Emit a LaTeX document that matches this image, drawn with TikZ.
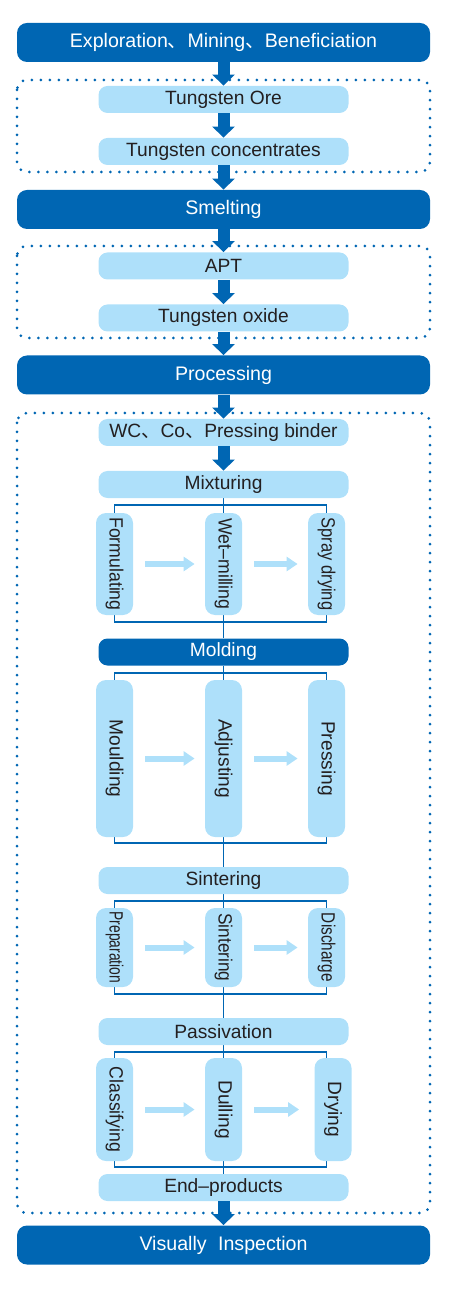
\documentclass[tikz,border=0pt]{standalone}
\usepackage{fontspec}
\setmainfont{Liberation Sans}
\newfontfamily\cjk{Noto Sans CJK SC}
\usetikzlibrary{
arrows.meta,
backgrounds,
calc,
positioning
}
\definecolor{dkblue}{HTML}{0066B3}
\definecolor{ltblue}{HTML}{AEE0FA}
\definecolor{inkgray}{HTML}{231F20}
\tikzset{>=latex}
\tikzset{
  stagebar/.style={fill=dkblue, text=white, rounded corners=5pt, minimum width=206.5pt, minimum height=19.5pt, inner sep=0pt, font=\fontsize{9.8}{11}\selectfont},
  itembox/.style={fill=ltblue, text=inkgray, rounded corners=4.5pt, minimum width=125pt, minimum height=13.5pt, inner sep=0pt, font=\fontsize{9.6}{11}\selectfont},
  substep/.style={fill=ltblue, text=inkgray, rotate=-90, rounded corners=5pt, minimum height=18.5pt, inner sep=0pt, font=\fontsize{9.6}{11}\selectfont},
  narrow/.style={font=\fontsize{9.6}{11}\selectfont\addfontfeature{FakeStretch=#1}},
  dotframe/.style={draw=dkblue, line width=1.5pt, line cap=round, dash pattern=on 0pt off 4.5pt, rounded corners=5pt},
  bigarrow/.style={draw=dkblue, line width=6pt, -{Triangle[width=11pt,length=5.5pt]}},
  lightarrow/.style={draw=ltblue, line width=3pt, -{Triangle[width=7pt,length=5.5pt]}, shorten <=6pt, shorten >=5pt},
  bracket/.style={draw=dkblue, line width=0.8pt}
}

\begin{document}
\begin{tikzpicture}[x=0.5pt, y=-0.5pt]
	\useasboundingbox (0,0) rectangle (449,1293);
	% main column
	\node[stagebar] (explore) at (223.5,42.5)  {Exploration{\cjk 、}Mining{\cjk 、}Beneficiation};
	\node[itembox]  (ore)     at (223.5,99.5)  {Tungsten Ore};
	\node[itembox]  (conc)    at (223.5,151.5) {Tungsten concentrates};
	\node[stagebar] (smelt)   at (223.5,209.5) {Smelting};
	\node[itembox]  (apt)     at (223.5,266)   {APT};
	\node[itembox]  (oxide)   at (223.5,318)   {Tungsten oxide};
	\node[stagebar] (proc)    at (223.5,375)   {Processing};
	\node[itembox]  (wc)      at (223.5,432.5) {WC{\cjk 、}Co{\cjk 、}Pressing binder};
	\node[itembox]  (mix)     at (223.5,484.5) {Mixturing};
	\node[itembox,fill=dkblue,text=white] (mold) at (223.5,652) {Molding};
	\node[itembox]  (sinter)  at (223.5,880.5) {Sintering};
	\node[itembox]  (passiv)  at (223.5,1031.5) {Passivation};
	\node[itembox]  (endprod) at (223.5,1187.5) {End--products};
	\node[stagebar] (inspect) at (223.5,1245)  {Visually\hspace{3pt} Inspection};

	% mixturing steps
	\node[substep, narrow=0.92, minimum width=51pt] (form)  at (114.5,564) {Formulating};
	\node[substep, narrow=0.92, minimum width=51pt] (wet)   at (223.5,564) {Wet--milling};
	\node[substep, narrow=0.86, minimum width=51pt] (spray) at (326.5,564) {Spray drying};
	% molding steps
	\node[substep, minimum width=78.5pt] (mould)  at (114.5,758.5) {Moulding};
	\node[substep, minimum width=78.5pt] (adjust) at (223.5,758.5) {Adjusting};
	\node[substep, minimum width=78.5pt] (press)  at (326.5,758.5) {Pressing};
	% sintering steps
	\node[substep, narrow=0.72, minimum width=39.5pt] (prep)     at (114.5,947.5) {Preparation};
	\node[substep, narrow=0.9, minimum width=39.5pt]  (sintstep) at (223.5,947.5) {Sintering};
	\node[substep, narrow=0.8, minimum width=39.5pt]  (disch)    at (326.5,947.5) {Discharge};
	% passivation steps
	\node[substep, narrow=0.92, minimum width=51.5pt] (classif) at (114.5,1109.5) {Classifying};
	\node[substep, minimum width=51.5pt] (dull)    at (223.5,1109.5) {Dulling};
	\node[substep, minimum width=51.5pt] (dry)     at (333,1109.5)   {Drying};

	\begin{scope}[on background layer]
		\draw[dotframe] (17,80) rectangle (430,172);
		\draw[dotframe] (17,246) rectangle (430,338);
		\draw[dotframe] (17,413) rectangle (430,1213);

		\draw[bracket] (114.5,505) rectangle (326.5,622);
		\draw[bracket] (114.5,673) rectangle (326.5,843);
		\draw[bracket] (114.5,901) rectangle (326.5,994);
		\draw[bracket] (114.5,1052) rectangle (326.5,1167);
		\draw[bracket] (mix) -- (mold);
		\draw[bracket] (mold) -- (sinter);
		\draw[bracket] (sinter) -- (passiv);
		\draw[bracket] (passiv) -- (endprod);
	\end{scope}

	\draw[bigarrow] (explore) -- (ore);
	\draw[bigarrow] (ore) -- (conc);
	\draw[bigarrow] (conc) -- (smelt);
	\draw[bigarrow] (smelt) -- (apt);
	\draw[bigarrow] (apt) -- (oxide);
	\draw[bigarrow] (oxide) -- (proc);
	\draw[bigarrow] (proc) -- (wc);
	\draw[bigarrow] (wc) -- (mix);
	\draw[bigarrow] (endprod) -- (inspect);

	\draw[lightarrow] (form) -- (wet);
	\draw[lightarrow] (wet) -- (spray);
	\draw[lightarrow] (mould) -- (adjust);
	\draw[lightarrow] (adjust) -- (press);
	\draw[lightarrow] (prep) -- (sintstep);
	\draw[lightarrow] (sintstep) -- (disch);
	\draw[lightarrow] (classif) -- (dull);
	\draw[lightarrow, shorten >=7.5pt] (dull) -- (dry);
\end{tikzpicture}
\end{document}
